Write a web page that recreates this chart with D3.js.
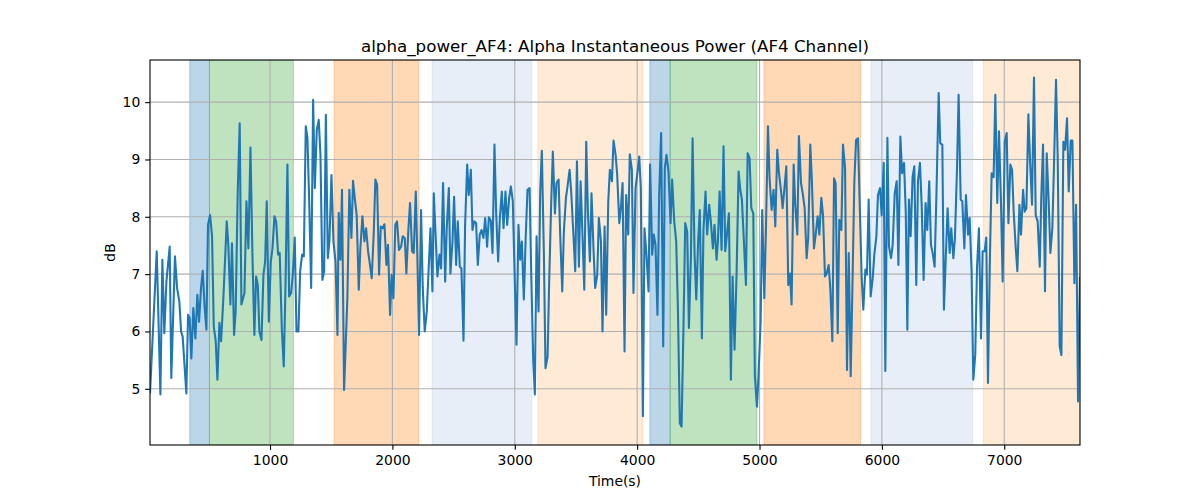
<!DOCTYPE html>
<html><head><meta charset="utf-8">
<script src="https://cdn.jsdelivr.net/npm/d3@7"></script>
<style>body{margin:0;background:#fff}svg{display:block;font-family:"DejaVu Sans",sans-serif}</style>
</head><body><svg id="c" width="1200" height="500"></svg>
<script>
const times = [19,74,104,120,136,153,180,193,223,240,259,273,286,316,330,343,357,373,390,406,420,436,450,466,480,493,510,526,540,556,570,586,600,616,629,646,659,676,689,706,719,736,752,766,
791,807,823,840,856,872,886,900,913,930,946,960,973,990,1006,1020,1036,1050,1066,1079,1096,1112,1126,1142,1156,1172,1186,1202,1216,1232,1246,1262,1276,1292,1306,1322,1336,1352,1366,1382,1398,1412,1428,1442,1456,1472,1485,1502,1518,1535,1551,
1561,1575,1588,1605,1632,1648,1665,1678,1695,1708,1725,1738,1755,1771,1785,1801,1815,1831,1847,1861,1875,1891,1905,1921,1935,1951,1964,1981,1994,2008,2024,2038,2054,2071,2084,2101,2114,2131,2144,2161,2174,2191,2204,2218,2234,2248,2264,2281,2294,2311,2327,
2338,2355,2368,2385,2398,2414,2431,2444,2461,2474,2491,2504,2521,2534,2551,2564,2581,2594,2611,2624,2641,2654,2668,2684,2698,2714,2728,2744,2758,2774,2788,2804,2818,2834,2848,2864,2878,2894,2908,2924,2938,2954,2968,2984,2998,3014,3030,3044,3058,3074,3090,3104,
3121,3134,3151,3164,3178,3194,3208,3221,3238,3251,3268,3281,3298,3311,3328,3341,3358,3371,3388,3401,3418,3431,3448,3461,3478,3494,3508,3524,3538,3554,3568,3584,3598,3614,3627,3644,3657,3674,3687,3704,3717,3734,3747,3764,3777,3794,3807,3824,3837,3854,3867,3881,
3897,3910,3927,3940,3957,3970,3987,4000,4017,4030,4047,4060,4076,4093,4106,4123,4136,4150,4166,4180,4196,4213,4226,4240,4256,4273,4286,4303,4319,4333,4349,4363,4379,4393,4409,4423,4439,4453,4469,4483,4499,4512,4529,4542,4559,4572,4589,4602,4619,4632,4649,4660,
4674,4690,4706,4720,4736,4750,4766,4780,4796,4813,4829,4843,4856,4873,4889,4903,4919,4933,4949,4962,4979,4992,5009,5022,5039,5052,5069,5082,5099,5115,5129,5145,5159,5175,5189,5205,5219,5235,5249,5262,5279,5292,5309,5322,5339,5355,5369,5385,5398,5415,5428,
5445,5459,5475,5489,5505,5519,5535,5549,5565,5579,5595,5609,5622,5639,5652,5669,5682,5699,5715,5729,5745,5759,5775,5789,5805,5819,5835,5848,5865,5878,5892,5908,5925,5938,5955,5968,5985,5998,6015,6028,6045,6058,6075,6088,6105,6121,6135,6151,6165,6181,6195,6208,
6221,6235,6251,6265,6281,6295,6311,6325,6341,6357,6371,6387,6401,6417,6431,6447,6464,6477,6494,6507,6524,6537,6554,6567,6584,6597,6614,6627,6644,6657,6674,6687,6704,6717,6733,6747,6763,6777,6793,6810,6823,6840,6853,6867,6883,6897,6913,6927,6943,6957,6973,6987,
7004,7020,7034,7050,7064,7077,7094,7107,7124,7137,7154,7167,7181,7197,7211,7227,7243,7257,7273,7290,7303,7317,7333,7347,7363,7377,7393,7407,7423,7437,7453,7467,7483,7497,7513,7527,7543,7557,7573,7587,7603,7619];
const db = [4.92,7.4,4.9,7.25,5.97,6.87,7.48,5.19,7.31,6.76,6.52,6.0,5.91,4.92,6.29,6.23,5.53,6.41,5.88,6.64,6.17,6.76,7.06,6.41,6.03,7.86,8.03,7.66,6.09,5.83,5.16,6.15,5.83,6.47,7.08,7.92,7.51,6.47,7.54,5.94,6.35,8.44,9.63,6.47,
6.67,8.27,7.45,9.21,7.34,5.94,6.96,6.81,6.0,5.85,6.99,7.22,8.27,6.17,7.22,7.45,8.01,7.92,7.34,7.37,6.06,5.39,6.76,8.91,6.61,6.67,6.99,7.64,6.0,6.0,7.05,7.34,7.31,9.58,9.37,8.09,6.76,10.04,8.5,9.52,9.69,9.08,6.9,7.05,9.78,7.28,7.57,8.73,7.57,7.22,5.94,
8.07,7.25,8.47,4.98,6.58,8.47,7.63,8.63,8.27,8.03,6.73,7.45,8.01,7.57,7.8,7.4,7.19,6.93,7.69,8.65,8.56,6.99,7.83,7.8,7.87,7.16,7.51,6.29,6.99,6.58,7.86,7.92,7.42,7.48,7.66,7.63,7.01,7.8,8.24,7.4,7.37,8.44,7.28,5.94,8.12,6.76,6.0,6.35,6.99,7.8,6.7,
8.41,7.57,6.96,7.34,7.1,8.59,6.87,7.8,8.5,7.01,7.57,8.35,7.16,7.92,7.13,7.1,5.84,7.86,8.91,8.38,8.82,7.77,7.92,7.89,7.16,7.69,7.77,7.63,7.98,7.48,7.99,7.93,7.37,9.26,8.06,7.22,7.98,8.44,7.8,8.44,7.86,8.33,8.53,8.27,7.05,5.77,7.86,7.25,7.57,6.56,7.69,8.47,
8.5,7.05,5.48,4.9,7.66,6.35,8.44,9.15,7.34,5.36,5.56,6.87,8.27,9.14,8.06,8.59,8.65,7.69,6.7,7.74,8.33,8.53,8.82,8.44,7.74,7.05,8.97,7.13,8.62,7.63,6.73,9.31,8.06,7.22,8.41,7.4,6.76,6.99,7.98,7.57,6.0,7.83,6.29,8.27,8.82,8.62,9.33,9.08,8.73,7.89,8.15,8.59,
5.65,8.38,7.69,9.09,8.82,6.67,8.5,8.73,9.05,8.5,4.52,7.8,7.34,6.7,8.91,7.34,7.69,7.51,6.29,8.38,9.46,5.74,8.85,9.08,8.79,7.89,8.65,7.92,7.57,6.41,4.4,4.34,6.12,7.89,7.74,6.06,7.28,9.37,7.37,6.56,7.6,8.12,5.88,7.77,8.44,7.69,8.21,7.92,7.45,7.86,7.25,7.57,
8.44,7.42,9.23,7.4,7.74,8.06,5.16,6.96,5.68,7.05,8.79,8.47,8.3,7.54,6.81,9.11,9.02,8.15,8.06,5.22,4.69,5.24,6.17,8.12,6.58,7.74,9.58,8.68,8.12,8.47,7.83,9.17,8.76,8.47,8.15,8.53,8.88,6.81,7.01,6.47,8.91,8.21,7.69,9.41,8.59,8.38,8.15,7.28,7.63,9.26,8.62,
7.45,7.69,8.01,7.69,8.33,8.03,6.96,7.01,7.16,6.73,5.83,8.67,8.59,5.97,7.95,7.77,9.26,8.85,5.33,7.37,5.22,6.76,8.62,9.34,9.37,8.21,6.93,6.38,7.08,6.99,8.3,6.61,6.93,7.34,7.66,8.38,8.5,8.03,8.94,5.31,9.38,7.48,7.28,7.51,8.41,8.62,7.16,9.4,8.76,8.94,8.09,6.03,
8.3,7.66,8.7,8.88,6.81,8.62,8.94,8.21,6.9,8.24,7.77,8.62,7.51,7.34,7.13,8.5,10.16,9.28,9.26,6.38,7.4,8.15,7.37,7.8,7.28,7.63,8.85,10.13,8.3,8.27,7.45,8.38,7.69,7.98,7.05,5.16,5.59,7.1,7.8,5.88,7.4,7.4,7.64,5.1,7.31,8.76,8.69,10.13,8.24,9.49,8.27,6.87,
9.31,9.46,7.89,8.91,8.82,8.09,7.45,7.05,8.21,7.69,8.47,8.09,8.15,9.79,8.97,8.21,10.43,8.03,7.92,7.13,8.38,9.26,6.7,9.11,8.27,7.37,7.8,8.94,10.39,9.02,5.74,5.59,9.31,9.17,9.72,8.44,9.33,9.33,6.84,8.21,4.78,6.96];

const spanStart = [344, 505, 1523, 2324, 3188, 4104, 4270, 5036, 5911, 6829];
const spanEnd   = [505, 1191, 2216, 3139, 4047, 4270, 4979, 5826, 6742, 7619];
const spanKind  = ["blue","green","orange","ltblue","ltorange","blue","green","orange","ltblue","ltorange"];
const xTicks = [1000,2000,3000,4000,5000,6000,7000];
const yTicks = [5,6,7,8,9,10];
const xDomain = [19, 7619];
const yDomain = [4.02, 10.735];
const titleText = "alpha_power_AF4: Alpha Instantaneous Power (AF4 Channel)";

const kindColor = {blue:"#1f77b4", green:"#2ca02c", orange:"#ff7f0e", ltblue:"#aec7e8", ltorange:"#ffbb78"};

const L=150, R=1080, T=60, B=445;
const svg = d3.select("#c");
const x = d3.scaleLinear().domain(xDomain).range([L,R]);
const y = d3.scaleLinear().domain(yDomain).range([B,T]);

svg.append("defs").append("clipPath").attr("id","clip").append("rect")
  .attr("x",L).attr("y",T).attr("width",R-L).attr("height",B-T);

const spans = spanStart.map((s,i)=>({s, e:spanEnd[i], k:spanKind[i]}));
svg.append("g").attr("clip-path","url(#clip)").selectAll("rect").data(spans).join("rect")
  .attr("x",d=>x(d.s)).attr("width",d=>x(d.e)-x(d.s))
  .attr("y",T).attr("height",B-T)
  .attr("fill",d=>kindColor[d.k]).attr("fill-opacity",0.3)
  .attr("stroke",d=>kindColor[d.k]).attr("stroke-opacity",0.3).attr("stroke-width",1);

// grid
const grid = svg.append("g");
grid.selectAll(".gx").data(xTicks).join("line")
  .attr("x1",d=>x(d)).attr("x2",d=>x(d)).attr("y1",T).attr("y2",B)
  .attr("stroke","#b0b0b0").attr("stroke-width",1.1);
grid.selectAll(".gy").data(yTicks).join("line")
  .attr("y1",d=>y(d)).attr("y2",d=>y(d)).attr("x1",L).attr("x2",R)
  .attr("stroke","#b0b0b0").attr("stroke-width",1.1);

// line
const pts = times.slice(0, Math.min(times.length, db.length)).map((t,i)=>[t, db[i]]);
svg.append("path").attr("clip-path","url(#clip)")
  .datum(pts)
  .attr("d", d3.line().x(d=>x(d[0])).y(d=>y(d[1])))
  .attr("fill","none").attr("stroke","#1f77b4").attr("stroke-width",2.08)
  .attr("stroke-linejoin","round").attr("stroke-linecap","butt");

// axes
const xa = svg.append("g").attr("transform",`translate(0,${B})`)
  .call(d3.axisBottom(x).tickValues(xTicks).tickFormat(d3.format("d")).tickSizeOuter(0).tickSize(4.86).tickPadding(4.86));
const ya = svg.append("g").attr("transform",`translate(${L},0)`)
  .call(d3.axisLeft(y).tickValues(yTicks).tickFormat(d3.format("d")).tickSizeOuter(0).tickSize(4.86).tickPadding(4.86));
[xa,ya].forEach(a=>{
  a.select(".domain").remove();
  a.selectAll("line").attr("stroke","#000").attr("stroke-width",1.1);
  a.selectAll("text").attr("font-family","DejaVu Sans").attr("font-size","13.9px").attr("fill","#000");
});

svg.append("rect").attr("x",L).attr("y",T).attr("width",R-L).attr("height",B-T)
  .attr("fill","none").attr("stroke","#000").attr("stroke-width",1.1);

svg.append("text").attr("x",(L+R)/2).attr("y",T-8).attr("text-anchor","middle")
  .attr("font-size","16.7px").attr("fill","#000").text(titleText);
svg.append("text").attr("x",(L+R)/2).attr("y",486).attr("text-anchor","middle")
  .attr("font-size","13.9px").attr("fill","#000").text("Time(s)");
svg.append("text").attr("transform",`translate(115,${(T+B)/2}) rotate(-90)`).attr("text-anchor","middle")
  .attr("font-size","13.9px").attr("fill","#000").text("dB");
</script></body></html>
